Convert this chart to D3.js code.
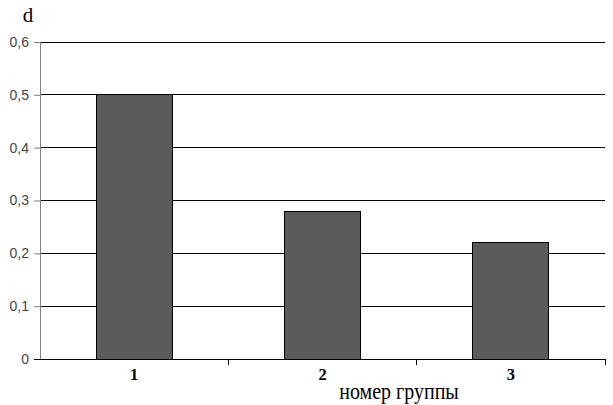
<!DOCTYPE html>
<html><head><meta charset="utf-8">
<script src="https://cdn.jsdelivr.net/npm/d3@7"></script>
<style>body{margin:0;background:#fff}</style>
</head><body>
<svg id="c" width="613" height="405"></svg>
<script>
const categories = ["1", "2", "3"];
const values = [0.5, 0.28, 0.22];
const yTicks = [0, 0.1, 0.2, 0.3, 0.4, 0.5, 0.6];
const yTickLabels = ["0", "0,1", "0,2", "0,3", "0,4", "0,5", "0,6"];
const xTitle = "номер группы";
const yTitle = "d";

const svg = d3.select("#c");
const L = 40, R = 605, T = 42, B = 359;
const xb = d3.scaleBand().domain(categories).range([L, R]);
const y = d3.scaleLinear().domain([0, 0.6]).range([B, T]);

// gridlines
svg.append("g").selectAll("line").data(yTicks.filter(d => d > 0)).join("line")
  .attr("x1", L).attr("x2", R).attr("y1", d => y(d)).attr("y2", d => y(d))
  .attr("stroke", "#000").attr("stroke-width", 1).attr("shape-rendering", "crispEdges");

// bars
svg.append("g").selectAll("rect").data(values).join("rect")
  .attr("x", (d, i) => xb(categories[i]) + (xb.bandwidth() - 76) / 2)
  .attr("width", 76)
  .attr("y", d => y(d)).attr("height", d => B - y(d))
  .attr("fill", "#5a5a5a").attr("stroke", "#000").attr("stroke-width", 1)
  .attr("shape-rendering", "crispEdges");

// y axis
const ya = d3.axisLeft(y).tickValues(yTicks).tickFormat((d, i) => yTickLabels[i]).tickSize(6).tickPadding(5);
const gy = svg.append("g").attr("transform", `translate(${L},0)`).call(ya);
gy.select(".domain").attr("stroke", "#808080");
gy.selectAll(".tick line").attr("stroke", "#808080");
gy.selectAll("text").attr("font-family", "Liberation Sans, Arial, sans-serif").attr("font-size", 14).attr("fill", "#444");

// x axis
const gx = svg.append("g").attr("transform", `translate(0,${B})`);
gx.append("line").attr("x1", L - 6).attr("x2", R).attr("y1", 0).attr("y2", 0).attr("stroke", "#000").attr("shape-rendering", "crispEdges");
gx.selectAll(".tk").data(categories).join("line").attr("class", "tk")
  .attr("x1", d => xb(d) + xb.bandwidth()).attr("x2", d => xb(d) + xb.bandwidth())
  .attr("y1", 0).attr("y2", 6).attr("stroke", "#000").attr("shape-rendering", "crispEdges");
gx.selectAll(".lb").data(categories).join("text").attr("class", "lb")
  .attr("x", d => xb(d) + xb.bandwidth() / 2).attr("y", 21)
  .attr("text-anchor", "middle").attr("font-family", "Liberation Serif, Times New Roman, serif")
  .attr("font-weight", "bold").attr("font-size", 16.5).text(d => d);

svg.append("text").attr("transform", "translate(399,399) scale(1,1.2)").attr("text-anchor", "middle")
  .attr("font-family", "Liberation Serif, Times New Roman, serif").attr("font-size", 20).text(xTitle);
svg.append("text").attr("x", 28).attr("y", 22).attr("text-anchor", "middle")
  .attr("font-family", "Liberation Serif, Times New Roman, serif").attr("font-size", 21).text(yTitle);
</script>
</body></html>
